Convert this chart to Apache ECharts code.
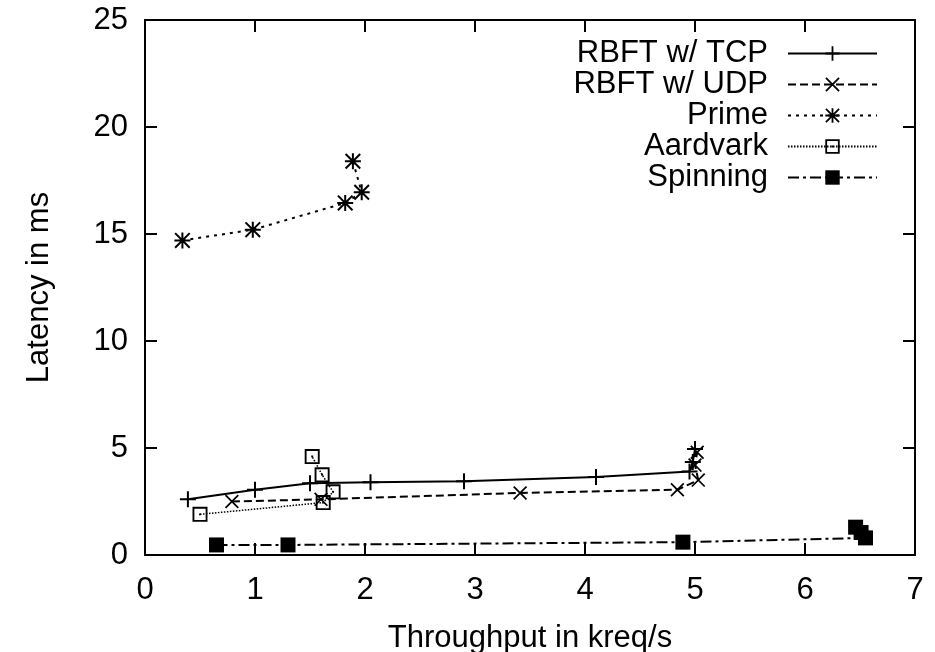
<!DOCTYPE html>
<html>
<head>
<meta charset="utf-8">
<script src="https://cdn.jsdelivr.net/npm/echarts@6/dist/echarts.min.js"></script>
<style>
  html, body { margin: 0; padding: 0; background: #fff; }
  #chart { width: 935px; height: 652px; }
</style>
</head>
<body>
<div id="chart"></div>
<script>
// values: [throughput kreq/s, latency ms]
const tcp = [[0.39, 2.6], [1.0, 3.05], [1.5, 3.35], [2.05, 3.4], [2.9, 3.45], [4.1, 3.65], [4.95, 3.9], [4.98, 4.35], [5.0, 4.95]];
const udp = [[0.79, 2.5], [1.6, 2.6], [3.41, 2.9], [4.84, 3.05], [5.03, 3.5], [5.0, 4.2], [5.02, 4.8]];
const prime = [[0.34, 14.7], [0.98, 15.2], [1.82, 16.45], [1.97, 16.95], [1.89, 18.4]];
const aardvark = [[0.5, 1.9], [1.62, 2.45], [1.71, 2.95], [1.61, 3.75], [1.52, 4.6]];
const spinning = [[0.65, 0.47], [1.3, 0.47], [4.89, 0.6], [6.55, 0.8], [6.51, 1.05], [6.46, 1.3]];
const names = ['RBFT w/ TCP', 'RBFT w/ UDP', 'Prime', 'Aardvark', 'Spinning'];

const FONT = '"Liberation Sans", Arial, sans-serif';
const PLUS = 'path://M7,0h2v7h7v2h-7v7h-2v-7h-7v-2h7z';
const CROSS = 'path://M0,1.4L1.4,0L16,14.6L14.6,16Z M14.6,0L16,1.4L1.4,16L0,14.6Z';
const STAR = 'path://M7,0h2v7h7v2h-7v7h-2v-7h-7v-2h7z M0,1.4L1.4,0L16,14.6L14.6,16Z M14.6,0L16,1.4L1.4,16L0,14.6Z';
const BOX = 'path://M0,0H16V16H0Z M2,2V14H14V2Z M7,7H9V9H7Z';

const chart = echarts.init(document.getElementById('chart'));

const axisCommon = {
  type: 'value',
  axisLine: { show: true, onZero: false, lineStyle: { color: '#000', width: 2 } },
  axisTick: { show: true, inside: true, length: 12, lineStyle: { color: '#000', width: 2 } },
  splitLine: { show: false },
};
const labelStyle = { fontFamily: FONT, fontSize: 31, color: '#000' };

function line(name, data, symbol, size, dash, width) {
  return {
    name, type: 'line', data, symbol, symbolSize: size,
    xAxisIndex: 0, yAxisIndex: 0,
    lineStyle: { color: '#000', width: width, type: dash },
    itemStyle: { color: '#000' },
    z: 3,
  };
}

chart.setOption({
  animation: false,
  grid: { left: 145, right: 20, top: 20, bottom: 97, outerBoundsMode: 'none', containLabel: false },
  legend: {
    data: names, orient: 'vertical', align: 'right',
    right: 52, top: 33, itemWidth: 89, itemHeight: 18, itemGap: 0,
    textStyle: { fontFamily: FONT, fontSize: 31, color: '#000', padding: [0, 15, 0, 0] },
  },
  xAxis: [
    Object.assign({}, axisCommon, {
      min: 0, max: 7, interval: 1,
      name: 'Throughput in kreq/s', nameLocation: 'middle', nameGap: 68,
      nameTextStyle: labelStyle,
      axisLabel: Object.assign({ margin: 20 }, labelStyle),
    }),
    Object.assign({}, axisCommon, {
      min: 0, max: 7, interval: 1, position: 'top', axisLabel: { show: false },
    }),
  ],
  yAxis: [
    Object.assign({}, axisCommon, {
      min: 0, max: 25, interval: 5,
      name: 'Latency in ms', nameLocation: 'middle', nameGap: 90,
      nameTextStyle: labelStyle,
      axisLabel: Object.assign({ margin: 17 }, labelStyle),
    }),
    Object.assign({}, axisCommon, {
      min: 0, max: 25, interval: 5, position: 'right', axisLabel: { show: false },
    }),
  ],
  series: [
    line(names[0], tcp, PLUS, 16, 'solid', 2),
    line(names[1], udp, CROSS, 14, [8, 4], 2),
    line(names[2], prime, STAR, 16, [3, 5], 2),
    line(names[3], aardvark, BOX, 15, [1.5, 1.5], 1.5),
    line(names[4], spinning, 'rect', 15, [11, 4, 3, 4], 2),
  ],
});
</script>
</body>
</html>
